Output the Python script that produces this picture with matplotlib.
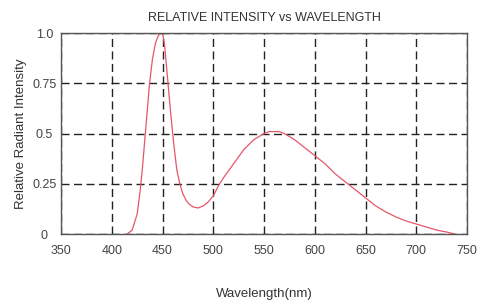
import matplotlib.pyplot as plt

# spectrum
wavelength = [415, 420, 425, 428, 430, 433, 437, 440, 443, 446, 450, 452, 455, 458,
              461, 464, 467, 470, 473, 476, 480, 485, 490, 495, 500, 505, 510, 520,
              530, 540, 550, 555, 565, 570, 580, 590, 600, 610, 620, 630, 640, 650,
              660, 670, 680, 690, 700, 710, 720, 730, 738]
intensity = [0.0, 0.02, 0.10, 0.22, 0.32, 0.50, 0.74, 0.87, 0.95, 0.99, 1.0, 0.94, 0.77, 0.60,
             0.45, 0.32, 0.25, 0.20, 0.17, 0.15, 0.135, 0.13, 0.14, 0.16, 0.19, 0.24, 0.28, 0.35,
             0.42, 0.47, 0.50, 0.51, 0.51, 0.50, 0.47, 0.43, 0.39, 0.35, 0.30, 0.26, 0.22, 0.18,
             0.14, 0.11, 0.085, 0.065, 0.05, 0.035, 0.02, 0.01, 0.0]

x_ticks = [350, 400, 450, 500, 550, 600, 650, 700, 750]
y_ticks = [0, 0.25, 0.5, 0.75, 1.0]
y_labels = ['0', '0.25', '0.5', '0.75', '1.0']

plt.rcParams['font.family'] = ['Liberation Sans', 'DejaVu Sans']

fig = plt.figure(figsize=(4.81, 3.06), dpi=100)
ax = fig.add_axes([0.127, 0.235, 0.844, 0.657])

ax.plot(wavelength, intensity, color='#e5566a', lw=0.9)

ax.set_xlim(350, 750)
ax.set_ylim(0, 1.0)
ax.set_xticks(x_ticks)
ax.set_yticks(y_ticks)
ax.set_yticklabels(y_labels)
ax.tick_params(length=0, labelsize=9, colors='#444444')
ax.tick_params(axis='x', pad=8)
# y labels sit centred in the margin, not right-aligned
ax.tick_params(axis='y', pad=12)
for lab in ax.get_yticklabels():
    lab.set_horizontalalignment('center')

# dashed grid
ax.grid(True, color='#222222', linestyle=(0, (5.8, 3.2)), lw=1.0)
for s in ax.spines.values():
    s.set_color('#555555')
    s.set_linewidth(1.0)

ax.set_title('RELATIVE INTENSITY vs WAVELENGTH', fontsize=9, color='#333333', pad=9)
ax.set_xlabel('Wavelength(nm)', fontsize=9.5, color='#333333', labelpad=22)
ax.set_ylabel('Relative Radiant Intensity', fontsize=9.5, color='#333333', labelpad=4)

fig.savefig('out.png', dpi=100)
